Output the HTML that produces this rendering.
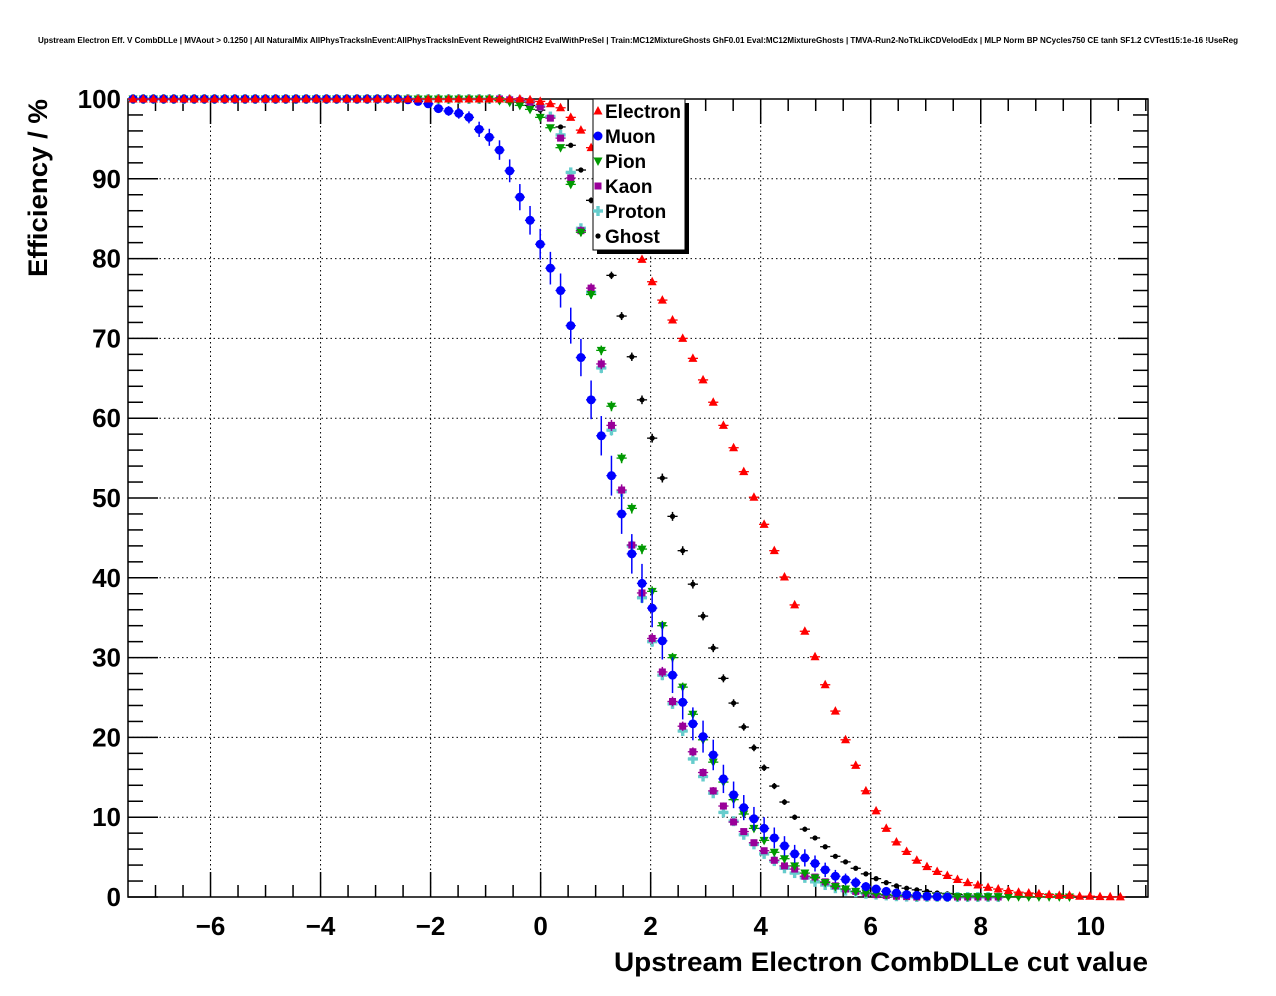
<!DOCTYPE html>
<html><head><meta charset="utf-8"><style>
body{margin:0;background:#fff}
svg{display:block;font-family:"Liberation Sans",Arial,sans-serif}
</style></head><body>
<svg id="chart" width="1276" height="996" viewBox="0 0 1276 996" xmlns="http://www.w3.org/2000/svg">
<rect width="1276" height="996" fill="#fff"/>
<text x="38" y="43" font-size="8" font-weight="bold" textLength="1200" lengthAdjust="spacingAndGlyphs">Upstream Electron Eff. V CombDLLe | MVAout &gt; 0.1250 | All NaturalMix AllPhysTracksInEvent:AllPhysTracksInEvent ReweightRICH2 EvalWithPreSel | Train:MC12MixtureGhosts GhF0.01 Eval:MC12MixtureGhosts | TMVA-Run2-NoTkLikCDVelodEdx | MLP Norm BP NCycles750 CE tanh SF1.2 CVTest15:1e-16 !UseReg</text>
<g id="grid"></g>
<g id="axes"></g>
<g id="series"></g>
<text x="614" y="971" font-size="27" font-weight="bold" textLength="534" lengthAdjust="spacingAndGlyphs">Upstream Electron CombDLLe cut value</text>
<text transform="translate(47,277) rotate(-90)" font-size="27" font-weight="bold" textLength="178" lengthAdjust="spacingAndGlyphs">Efficiency / %</text>
<g id="legend"></g>
</svg>
<script>
const NBINS = 100, XMIN = -7.5, BINW = 0.185;
const xTicks = [-6,-4,-2,0,2,4,6,8,10];
const yTicks = [0,10,20,30,40,50,60,70,80,90,100];
const seriesNames = ["Electron","Muon","Pion","Kaon","Proton","Ghost"];
// values from bin index 36 onward (bins 0..35 are 100)
const electron = [100,100,100,99.9,99.7,99.4,98.9,97.7,96.1,93.9,91.1,88,85,82.5,79.9,77.1,74.8,72.3,70,67.5,64.8,62,59.1,56.3,53.3,50.1,46.7,43.4,40.1,36.6,33.3,30.1,26.6,23.3,19.7,16.5,13.3,10.8,8.6,6.9,5.7,4.6,3.8,3.2,2.7,2.2,1.8,1.5,1.2,1.0,0.8,0.6,0.5,0.4,0.3,0.2,0.2,0.1,0.1,0.05,0.03,0.02,0,0];
const muon = [93.6,91,87.7,84.8,81.8,78.8,76,71.6,67.6,62.3,57.8,52.8,48,43,39.3,36.2,32.1,27.8,24.4,21.7,20.1,17.8,14.8,12.8,11.2,9.8,8.6,7.4,6.4,5.4,4.9,4.2,3.4,2.6,2.2,1.8,1.3,1.0,0.7,0.5,0.3,0.2,0.1,0.05,0,0,0,0,0,0,0,0,0,0,0,0,0,0,0,0,0,0,0,0];
const muonLead = [99.9,99.7,99.4,98.8,98.5,98.2,97.7,96.2,95.2]; // bins 27..35
const pion = [99.8,99.6,99.2,98.7,97.7,96.4,93.9,89.3,83.3,75.5,68.5,61.5,55,48.7,43.6,38.3,34,30,26.3,22.9,19.7,16.9,14.4,12.2,10.4,8.6,7.1,5.6,4.8,3.9,3.0,2.4,1.8,1.3,1.0,0.7,0.5,0.4,0.3,0.2,0.2,0.1,0.1,0.1,0.1,0.05,0.05,0.05,0.05,0.05,0.03,0.03,0.02,0.02,0.01,0.01,0,0,0,0,0,0,0,0];
const kaon = [100,99.9,99.8,99.6,99,97.6,95.1,90.1,83.5,76.3,66.8,59.1,51,44.1,38.1,32.4,28.2,24.5,21.4,18.2,15.6,13.3,11.4,9.4,8.2,6.8,5.8,4.6,3.9,3.5,2.6,2.5,1.9,1.4,1.0,0.7,0.5,0.3,0.2,0.1,0.05,0,0,0,0,0,0,0,0,0,0,0,0,0,0,0,0,0,0,0,0,0,0,0];
const proton = [100,99.9,99.8,99.6,99.1,97.8,95.5,90.8,83.8,75.8,66.3,58.5,50.8,44,37.5,32,27.8,24.2,20.8,17.3,15.1,13,10.6,9.5,7.8,6.6,5.4,4.5,3.6,3.0,2.4,1.9,1.5,1.1,0.8,0.6,0.4,0.3,0.2,0.1,0.05,0,0,0,0,0,0,0,0,0,0,0,0,0,0,0,0,0,0,0,0,0,0,0];
const ghost = [100,99.8,99.6,99.2,98.6,97.8,96.5,94.2,91.1,87.3,82.8,77.9,72.8,67.7,62.3,57.5,52.5,47.7,43.4,39.2,35.2,31.2,27.4,24.3,21.3,18.7,16.2,13.9,11.9,10,8.5,7.4,6.3,5.1,4.4,3.6,2.9,2.3,1.8,1.4,1.1,0.9,0.7,0.5,0.4,0.3,0.2,0.2,0.1,0.1,0.05,0.05,0.03,0.02,0,0,0,0,0,0,0,0,0,0];
const nEvents = [20000,400,6000,5000,5000,8000];

const PX0=128, PX1=1148, PY0=99, PY1=897, XMAXV=11.04;
const sx = v => PX0 + (v - XMIN) * (PX1-PX0) / (XMAXV - XMIN);
const sy = v => PY1 - v * (PY1-PY0) / 100;
const NS="http://www.w3.org/2000/svg";
function mk(tag, attrs, parent){const e=document.createElementNS(NS,tag);for(const k in attrs)e.setAttribute(k,attrs[k]);parent.appendChild(e);return e;}
function full(arr, lead){const out=[];for(let i=0;i<NBINS;i++){let v;if(i>=36)v=arr[i-36]!==undefined?arr[i-36]:0;else if(lead&&i>=27)v=lead[i-27];else v=100;out.push(v);}return out;}

const grid=document.getElementById('grid'), axes=document.getElementById('axes');
xTicks.forEach(t=>{const l=mk('line',{x1:sx(t),x2:sx(t),y1:PY0,y2:PY1,stroke:'#000','stroke-width':1,'stroke-dasharray':'1.5,3'},grid);
});
yTicks.forEach(t=>{const l=mk('line',{x1:PX0,x2:PX1,y1:sy(t),y2:sy(t),stroke:'#000','stroke-width':1,'stroke-dasharray':'1.5,3'},grid);
});
const frame=mk('rect',{x:PX0,y:PY0,width:PX1-PX0,height:PY1-PY0,fill:'none',stroke:'#000','stroke-width':1.5},axes);

for(let v=-7;v<=11;v+=0.5){const maj=Math.abs(v%2)<1e-6;const L=maj?25:12;
mk('line',{x1:sx(v),x2:sx(v),y1:PY1,y2:PY1-L,stroke:'#000','stroke-width':1.5},axes);
mk('line',{x1:sx(v),x2:sx(v),y1:PY0,y2:PY0+L,stroke:'#000','stroke-width':1.5},axes);}
for(let v=0;v<=100;v+=2){const maj=v%10===0;const L=maj?30:15;
mk('line',{x1:PX0,x2:PX0+L,y1:sy(v),y2:sy(v),stroke:'#000','stroke-width':1.5},axes);
mk('line',{x1:PX1,x2:PX1-L,y1:sy(v),y2:sy(v),stroke:'#000','stroke-width':1.5},axes);}
xTicks.forEach(t=>{const e=mk('text',{x:sx(t),y:935,'font-size':26,'font-weight':'bold','text-anchor':'middle'},axes);e.textContent=(t<0?'\u2212'+(-t):t);
});
yTicks.forEach(t=>{const e=mk('text',{x:121,y:sy(t)+9,'font-size':26,'font-weight':'bold','text-anchor':'end'},axes);e.textContent=t;
});

const colors=['#ff0000','#0000ff','#009900','#990099','#66cccc','#000000'];
function marker(g,k,x,y,c){
 if(k===0)mk('polygon',{points:`${x},${y-5} ${x-4.5},${y+3.5} ${x+4.5},${y+3.5}`,fill:c},g);
 else if(k===1)mk('circle',{cx:x,cy:y,r:4.5,fill:c},g);
 else if(k===2)mk('polygon',{points:`${x},${y+5} ${x-4.5},${y-3.5} ${x+4.5},${y-3.5}`,fill:c},g);
 else if(k===3)mk('rect',{x:x-3.5,y:y-3.5,width:7,height:7,fill:c},g);
 else if(k===4){mk('rect',{x:x-5,y:y-1.7,width:10,height:3.4,fill:c},g);mk('rect',{x:x-1.7,y:y-5,width:3.4,height:10,fill:c},g);}
 else mk('circle',{cx:x,cy:y,r:2.6,fill:c},g);
}
const all=[full(electron),full(muon,muonLead),full(pion),full(kaon),full(proton),full(ghost)];
const lastIdx=[97,80,92,85,85,89];
const sg=document.getElementById('series');
[5,4,3,2,1,0].forEach(k=>{
 const g=mk('g',{},sg);
 
 
 all[k].forEach((v,i)=>{
  if(i>lastIdx[k])return;
  const xc=XMIN+BINW*(i+0.5);const x=sx(xc), y=sy(v);const c=colors[k];
  const hw=(sx(BINW)-sx(0))/2;
  mk('line',{x1:x-hw,x2:x+hw,y1:y,y2:y,stroke:c,'stroke-width':1.3},g);
  const err=100*Math.sqrt(Math.max(v,0.01)/100*(1-Math.min(v,99.99)/100)/nEvents[k]);
  if(err>0.1)mk('line',{x1:x,x2:x,y1:sy(v+err),y2:sy(v-err),stroke:c,'stroke-width':1.5},g);
  marker(g,k,x,y,c);
 });
});
const lg=document.getElementById('legend');
mk('rect',{x:597,y:103,width:92,height:151,fill:'#000'},lg);
mk('rect',{x:593,y:99,width:92,height:151,fill:'#fff',stroke:'#000','stroke-width':1},lg);
seriesNames.forEach((n,k)=>{
 const y=111+25*k;
 const it=mk('g',{},lg);
 
 
 marker(it,k,598,y,colors[k]);
 const t=mk('text',{x:605,y:y+7,'font-size':19,'font-weight':'bold'},it);t.textContent=n;
});
</script>
</body></html>
